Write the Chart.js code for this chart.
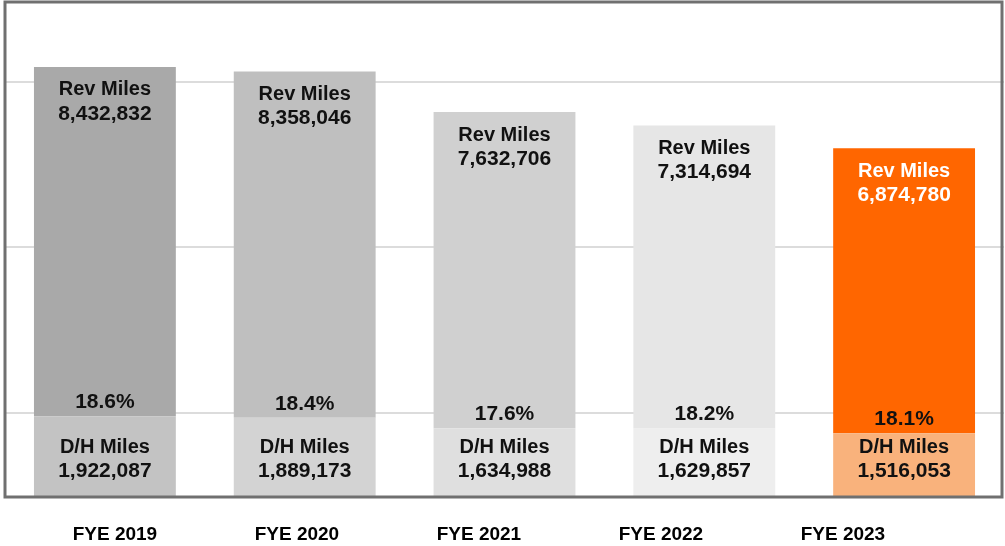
<!DOCTYPE html>
<html><head><meta charset="utf-8">
<script src="https://cdn.jsdelivr.net/npm/chart.js@4"></script>
<style>html,body{margin:0;padding:0;background:#fff}#wrap{width:1005px;height:546px}</style>
</head><body><div id="wrap"><canvas id="c" width="1005" height="546"></canvas></div>
<script>
const categories = ['FYE 2019', 'FYE 2020', 'FYE 2021', 'FYE 2022', 'FYE 2023'];
const revMiles = [8432832, 8358046, 7632706, 7314694, 6874780];
const dhMiles = [1922087, 1889173, 1634988, 1629857, 1516053];
const dhShareLabels = ['18.6%', '18.4%', '17.6%', '18.2%', '18.1%'];
const gridTicks = [2000000, 6000000, 10000000];

const revColors = ['#a9a9a9', '#bfbfbf', '#d0d0d0', '#e6e6e6', '#ff6600'];
const dhColors = ['#c3c3c3', '#d3d3d3', '#dfdfdf', '#eeeeee', '#f9b27c'];
const textColors = ['#111', '#111', '#111', '#111', '#ffffff'];
const FONT = 'bold 20px "Liberation Sans", Arial, sans-serif';
const NUM_FONT = 'bold 21px "Liberation Sans", Arial, sans-serif';

const fmt = v => v.toLocaleString('en-US');

const labelPlugin = {
  id: 'barLabels',
  afterDatasetsDraw(chart) {
    const ctx = chart.ctx;
    const dhMeta = chart.getDatasetMeta(0);
    const revMeta = chart.getDatasetMeta(1);
    ctx.save();
    ctx.textAlign = 'center';
    ctx.textBaseline = 'middle';
    categories.forEach((c, i) => {
      const rev = revMeta.data[i];
      const dh = dhMeta.data[i];
      ctx.fillStyle = textColors[i];
      ctx.font = FONT;
      ctx.fillText('Rev Miles', rev.x, rev.y + 23);
      ctx.font = NUM_FONT;
      ctx.fillText(fmt(revMiles[i]), rev.x, rev.y + 47);
      ctx.fillStyle = '#111';
      ctx.fillText(dhShareLabels[i], dh.x, dh.y - 14);
      ctx.font = FONT;
      ctx.fillText('D/H Miles', dh.x, dh.base - 49);
      ctx.font = NUM_FONT;
      ctx.fillText(fmt(dhMiles[i]), dh.x, dh.base - 25);
    });
    ctx.restore();
  },
  afterDraw(chart) {
    const a = chart.chartArea;
    const ctx = chart.ctx;
    ctx.save();
    ctx.strokeStyle = '#707070';
    ctx.lineWidth = 3;
    ctx.strokeRect(a.left, a.top - 2, a.right - a.left - 2, a.bottom - a.top + 3);
    ctx.restore();
  }
};

new Chart(document.getElementById('c'), {
  type: 'bar',
  data: {
    labels: categories,
    datasets: [
      { label: 'D/H Miles', data: dhMiles, backgroundColor: dhColors, stack: 's', xAxisID: 'x', yAxisID: 'y' },
      { label: 'Rev Miles', data: revMiles, backgroundColor: revColors, stack: 's', xAxisID: 'x', yAxisID: 'y' }
    ]
  },
  options: {
    responsive: false,
    animation: false,
    devicePixelRatio: 1,
    layout: { padding: { left: 5, right: 1, top: 4, bottom: 0 } },
    datasets: { bar: { barPercentage: 0.71, categoryPercentage: 1 } },
    plugins: { legend: { display: false }, tooltip: { enabled: false }, title: { display: false } },
    scales: {
      x: { display: false, stacked: true },
      x2: {
        type: 'linear',
        position: 'bottom',
        offset: false,
        min: -0.604,
        max: 4.885,
        afterBuildTicks(scale) { scale.ticks = categories.map((_, i) => ({ value: i })); },
        afterFit(scale) { scale.height = 50; },
        grid: { display: false, drawTicks: false, offset: false },
        border: { display: false },
        ticks: {
          autoSkip: false,
          maxRotation: 0,
          padding: 27,
          color: '#000',
          font: { family: '"Liberation Sans", Arial, sans-serif', size: 19, weight: 'bold' },
          callback: (v) => categories[v] !== undefined ? categories[v] : ''
        }
      },
      y: {
        stacked: true,
        min: 0,
        max: 11875000,
        afterBuildTicks(scale) { scale.ticks = gridTicks.map(v => ({ value: v })); },
        afterFit(scale) { scale.width = 0; },
        grid: { color: '#dcdcdc', lineWidth: 2, drawTicks: false },
        border: { display: false },
        ticks: { display: false }
      }
    }
  },
  plugins: [labelPlugin]
});
</script>
</body></html>
